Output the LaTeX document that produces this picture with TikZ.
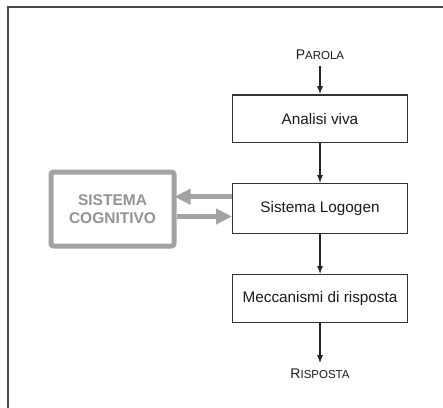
\documentclass[tikz,border=0pt]{standalone}
\usepackage{fontspec}
\setmainfont{Liberation Sans}
\usetikzlibrary{arrows.meta}
\definecolor{cogray}{HTML}{A3A3A3}
\definecolor{cogtext}{HTML}{939393}
\definecolor{boxline}{HTML}{333333}
\definecolor{framecol}{HTML}{4A4A4A}
\definecolor{txt}{HTML}{1A1A1A}
\newcommand{\fakesc}[2]{{\fontsize{14}{14}\selectfont #1}{\fontsize{11.5}{11.5}\selectfont #2}}
\begin{document}
\begin{tikzpicture}[x=1pt,y=-1pt,
  block/.style={draw=boxline, line width=1.3pt, minimum width=174.7pt, minimum height=47.7pt,
    inner sep=0pt, text=txt, font=\fontsize{15.3}{18}\selectfont},
  flow/.style={draw=black!85, line width=1.1pt, -{Latex[length=8pt,width=6pt]}},
  bigarrow/.style={draw=cogray, line width=5pt, -{Triangle[length=16pt,width=15pt]}},
  cogbox/.style={draw=cogray, line width=5pt, rounded corners=2.5pt, minimum width=123pt,
    minimum height=74pt, text=cogtext, align=center,
    font=\fontsize{15.5}{18.5}\selectfont\bfseries},
  endlabel/.style={text=txt, inner xsep=0pt, anchor=base},
  framestyle/.style={draw=framecol, line width=1.6pt}
]
\useasboundingbox (0,0) rectangle (443,407);
\fill[white] (0,0) rectangle (443,407);
\draw[framestyle] (8,408) -- (8,7) -- (444,7);

\node[block] (analisi) at (320,118.7) {Analisi viva};
\node[block, minimum height=49.7pt] (logogen) at (320,208.5) {Sistema Logogen};
\node[block] (mecc) at (320,298.5) {Meccanismi di risposta};

\node[cogbox] (cog) at (112.5,209) {SISTEMA\\COGNITIVO};

\node[endlabel, inner ysep=6.5pt] (parola) at (320,59.5) {\fakesc{P}{AROLA}};
\node[endlabel, inner ysep=5pt] (risposta) at (320,378) {\fakesc{R}{ISPOSTA}};

\draw[flow] (parola) -- (analisi);
\draw[flow] (analisi) -- (logogen);
\draw[flow] (logogen) -- (mecc);
\draw[flow] (mecc) -- (risposta);

\draw[bigarrow, shorten >=-2pt] ([yshift=11.8pt]logogen.west) -- ([yshift=11.8pt]logogen.west -| cog.east);
\draw[bigarrow] ([yshift=-7.5pt]cog.east) -- ([yshift=-7.5pt]cog.east -| logogen.west);
\end{tikzpicture}
\end{document}
